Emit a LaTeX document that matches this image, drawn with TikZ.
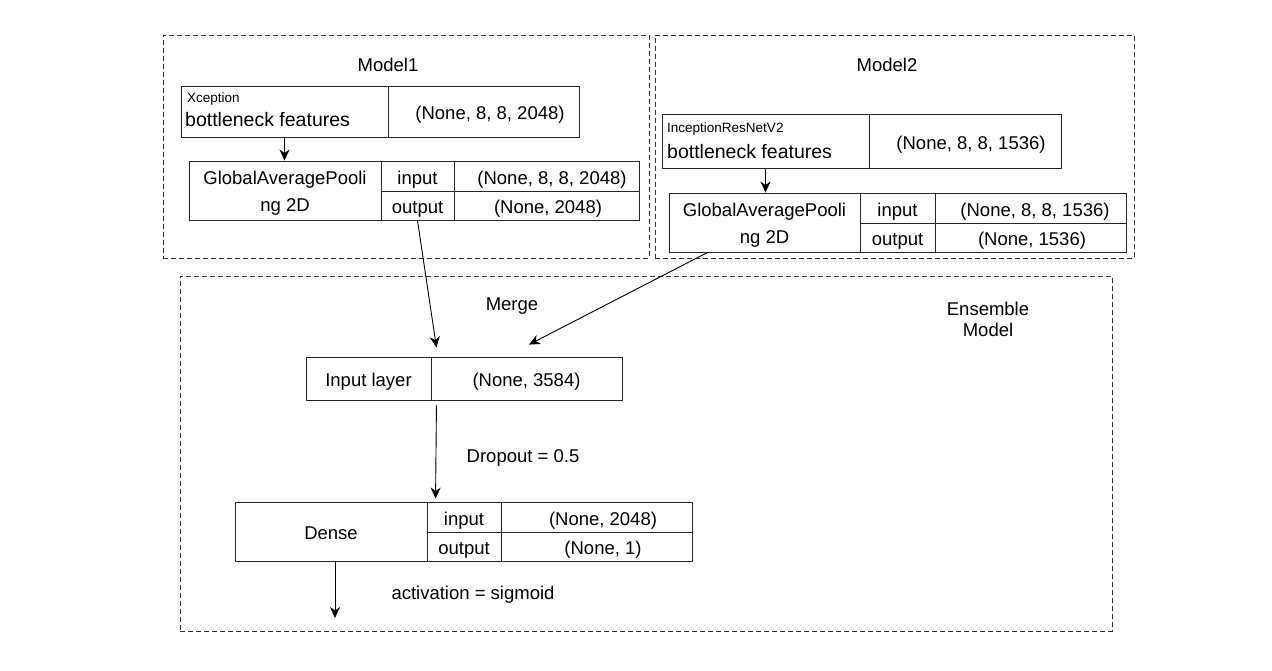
\documentclass[tikz,border=0pt]{standalone}
\usepackage{fontspec}
\setmainfont{Liberation Sans}
\usetikzlibrary{arrows.meta,calc}
\begin{document}
\begin{tikzpicture}[x=1pt,y=-1pt,
  every node/.style={font=\fontsize{18.5}{22}\selectfont, inner sep=0pt},
  tl/.style={text height=20pt, text depth=4pt},
  cell/.style={draw=black!85, line width=0.9pt, minimum height=#1, tl},
  cell/.default=30,
  frame/.style={draw=black!80, line width=0.9pt, dash pattern=on 5pt off 3pt},
  conn/.style={draw=black, line width=0.9pt, -{Stealth[length=11pt,width=10pt,inset=3.5pt]}},
  small/.style={font=\fontsize{13.5}{16}\selectfont},
  big/.style={font=\fontsize{19.5}{23}\selectfont}
]
\useasboundingbox (0,0) rectangle (1272,670);
% containers
\node[frame, minimum width=486, minimum height=223] (m1) at (406,146.5) {};
\node[frame, minimum width=479, minimum height=223] (m2) at (894.5,146.5) {};
\node[frame, minimum width=932, minimum height=355] (ens) at (646,453.5) {};
\node[tl] (t1) at (388,63) {Model1};
\node[tl] (t2) at (887,63) {Model2};
\node[tl] (tm) at (512,302) {Merge};
\node[align=center] (te) at (988,319) {Ensemble\\[-1pt]Model};

% Model1
\node[cell=51, minimum width=207] (xa) at (284.5,111.5) {};
\node[cell=51, minimum width=191] (xb) at (483.5,111.5) {};
\node[tl] (xbt) at (490,111.5) {(None, 8, 8, 2048)};
\node[small, anchor=west] (xs) at (187,99) {Xception};
\node[big, anchor=west] (xf) at (185,120) {bottleneck features};
\node[cell=59, minimum width=192] (ga) at (285,190.5) {};
\node[align=center, yshift=-3pt] (gat) at (ga) {GlobalAveragePooli\\[5pt]ng 2D};
\node[cell=30, minimum width=73] (gin) at (417.5,176) {input};
\node[cell=29, minimum width=73] (gout) at (417.5,205.5) {output};
\node[cell=30, minimum width=185] (gvi) at (546.5,176) {};
\node[cell=29, minimum width=185] (gvo) at (546.5,205.5) {};
\node[tl] (gvit) at (552,176) {(None, 8, 8, 2048)};
\node[tl] (gvot) at (548,205.5) {(None, 2048)};

% Model2
\node[cell=54, minimum width=207] (ia) at (765.5,141) {};
\node[cell=54, minimum width=192] (ib) at (965,141) {};
\node[tl] (ibt) at (971,141) {(None, 8, 8, 1536)};
\node[small, anchor=west] (is) at (667,129) {InceptionResNetV2};
\node[big, anchor=west] (if) at (667,152) {bottleneck features};
\node[cell=59, minimum width=191] (ha) at (764.5,222.5) {};
\node[align=center, yshift=-3pt] (hat) at (ha) {GlobalAveragePooli\\[5pt]ng 2D};
\node[cell=30, minimum width=75] (hin) at (897.5,208) {input};
\node[cell=29, minimum width=75] (hout) at (897.5,237.5) {output};
\node[cell=30, minimum width=191] (hvi) at (1030.5,208) {};
\node[cell=29, minimum width=191] (hvo) at (1030.5,237.5) {};
\node[tl] (hvit) at (1035,208) {(None, 8, 8, 1536)};
\node[tl] (hvot) at (1032,237.5) {(None, 1536)};

% Input layer
\node[cell=43, minimum width=125] (la) at (368.5,378.5) {Input layer};
\node[cell=43, minimum width=191] (lb) at (526.5,378.5) {(None, 3584)};

% Dense
\node[cell=59, minimum width=192] (da) at (331,531.5) {Dense};
\node[cell=30, minimum width=74] (din) at (464,517) {input};
\node[cell=29, minimum width=74] (dout) at (464,546.5) {output};
\node[cell=30, minimum width=191] (dvi) at (596.5,517) {};
\node[cell=29, minimum width=191] (dvo) at (596.5,546.5) {};
\node[tl] (dvit) at (603,517) {(None, 2048)};
\node[tl] (dvot) at (603,546.5) {(None, 1)};

\node[tl] (drop) at (523,454) {Dropout = 0.5};
\node[tl] (act) at (473,591) {activation = sigmoid};

% connectors
\coordinate (out) at (335,618);
\draw[conn] (xa.south) -- (xa.south |- ga.north);
\draw[conn] (ia.south) -- (ia.south |- ha.north);
\draw[conn] (gout.south) -- ($(la.north east)+(5,-9)$);
\draw[conn] ($(ha.south west)+(39,0)$) -- ($(lb.north)+(2.5,-12)$);
\draw[conn] ($(la.south east)+(5,5)$) -- ($(din.north west)+(9,-3)$);
\draw[conn] (da.south -| out) -- (out);
\end{tikzpicture}
\end{document}
